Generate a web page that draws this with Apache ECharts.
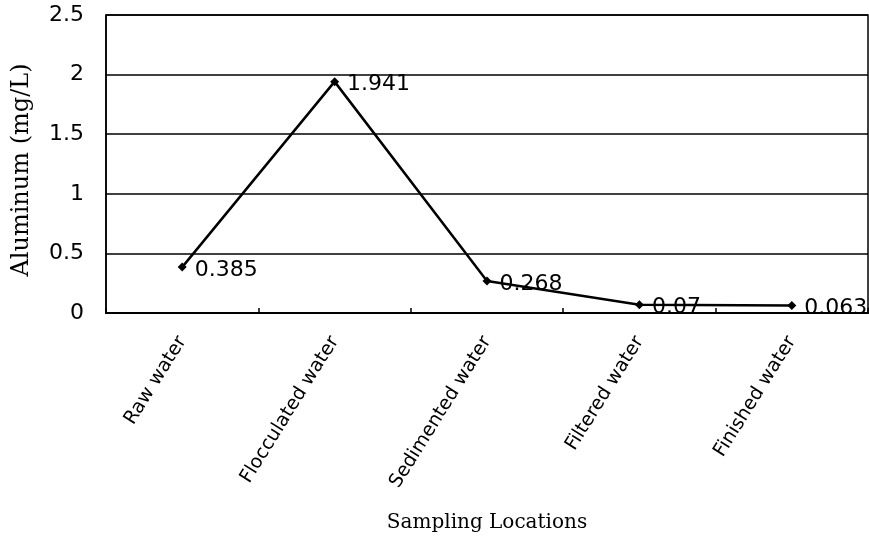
<!DOCTYPE html>
<html><head><meta charset="utf-8">
<script src="https://cdn.jsdelivr.net/npm/echarts@6/dist/echarts.min.js"></script>
<style>html,body{margin:0;padding:0;background:#fff}#c{width:869px;height:545px}</style>
</head><body><div id="c"></div>
<script>
const categories = ['Raw water','Flocculated water','Sedimented water','Filtered water','Finished water'];
const aluminum = [0.385, 1.941, 0.268, 0.07, 0.063];
const yTicks = [0, 0.5, 1, 1.5, 2, 2.5];

const chart = echarts.init(document.getElementById('c'));
chart.setOption({
  animation: false,
  backgroundColor: '#fff',
  grid: {left: 106, right: 1, top: 15, bottom: 232, show: true, borderColor: '#000', borderWidth: 1.5},
  xAxis: {
    type: 'category', data: categories, boundaryGap: true,
    name: 'Sampling Locations', nameLocation: 'middle', nameGap: 200,
    nameTextStyle: {fontFamily: 'DejaVu Serif', fontSize: 20, color: '#000'},
    axisLine: {lineStyle: {color: '#000', width: 2}},
    axisTick: {show: true, inside: true, length: 5, lineStyle: {color: '#000', width: 1.5}},
    axisLabel: {rotate: 58, fontFamily: 'DejaVu Sans', fontSize: 19, color: '#000', margin: 25, interval: 0}
  },
  yAxis: {
    type: 'value', min: 0, max: 2.5, interval: 0.5,
    name: 'Aluminum (mg/L)', nameLocation: 'middle', nameGap: 72,
    nameTextStyle: {fontFamily: 'DejaVu Serif', fontSize: 24, color: '#000', padding: [0, 12, 0, 0]},
    axisLine: {show: true, lineStyle: {color: '#000', width: 1.5}},
    axisTick: {show: false},
    splitLine: {show: true, lineStyle: {color: '#000', width: 1.5}},
    axisLabel: {fontFamily: 'DejaVu Sans', fontSize: 22, color: '#000', margin: 22,
      formatter: v => yTicks.includes(v) ? String(v) : ''}
  },
  series: [{
    type: 'line', data: aluminum,
    symbol: 'diamond', symbolSize: 9,
    lineStyle: {color: '#000', width: 2.5},
    itemStyle: {color: '#000'},
    label: {show: true, position: 'right', distance: 8, offset: [0, 3], fontFamily: 'DejaVu Sans', fontSize: 22, color: '#000',
      formatter: p => String(p.value)}
  }]
});
</script></body></html>
